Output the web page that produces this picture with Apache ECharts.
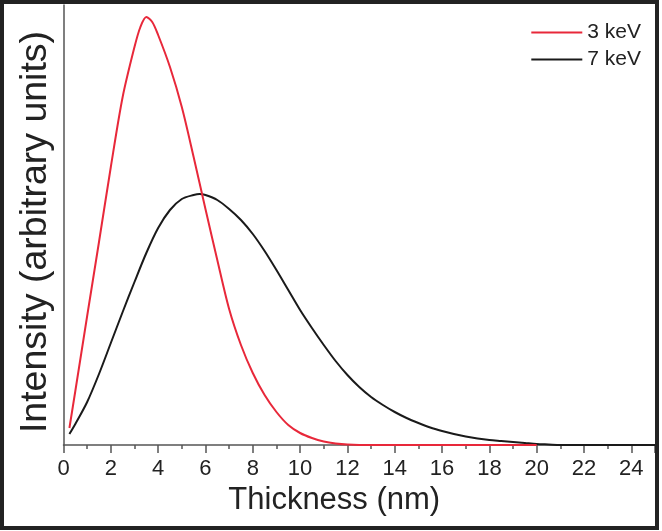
<!DOCTYPE html>
<html>
<head>
<meta charset="utf-8">
<script src="https://cdn.jsdelivr.net/npm/echarts@6/dist/echarts.min.js"></script>
<style>
html,body{margin:0;padding:0;background:#fff;}
#chart{width:662px;height:531px;}
</style>
</head>
<body>
<div id="chart"></div>
<script>
// Thickness (nm) and intensity (arbitrary units)
const thickness3keV = [0.25,0.5,1.0,1.5,2.0,2.5,3.0,3.25,3.5,3.75,4.0,4.5,5.0,5.5,6.0,6.5,7.0,7.5,8.0,8.5,9.0,9.5,10.0,10.5,11.0,11.5,12.0,13.0,16.0,20.0];
const intensity3keV = [17,54,129,203,278,348,398,418,428,423,410,378,338,288,236,185,136,100,72,50,33,20,12,7,3.5,1.5,0.5,0,0,0];

const thickness7keV = [0.25,0.5,1.0,1.5,2.0,2.5,3.0,3.5,4.0,4.5,5.0,5.5,5.75,6.0,6.5,7.0,7.5,8.0,8.5,9.0,9.5,10.0,10.5,11.0,11.5,12.0,12.5,13.0,13.5,14.0,14.5,15.0,15.5,16.0,16.5,17.0,17.5,18.0,18.5,19.0,19.5,20.0,20.5,21.0,25.0];
const intensity7keV = [11,21,43,71,102,133,163,192,217,235,246,250,251,250,245,236,225,211,194,175,155,135,117,100,84,70,58,48,40,33,27,22,17.5,14,11,8.5,6.5,5,4,3,2,1,0.5,0,0];

const seriesNames = ['3 keV','7 keV'];
const xAxisName = 'Thickness (nm)';
const yAxisName = 'Intensity (arbitrary units)';

const pair = (xs, ys) => xs.map((x, i) => [x, ys[i]]);
const FONT = '"Liberation Sans", Arial, sans-serif';

const chart = echarts.init(document.getElementById('chart'), null, {renderer: 'canvas'});
chart.setOption({
  animation: false,
  backgroundColor: '#fff',
  grid: {left: 63.5, top: 5, right: 7, bottom: 86, containLabel: false},
  legend: {
    orient: 'vertical',
    right: 16,
    top: 17,
    icon: 'rect',
    itemWidth: 51,
    itemHeight: 2,
    itemGap: 6,
    textStyle: {fontFamily: FONT, fontSize: 21, color: '#222', lineHeight: 21},
    data: seriesNames
  },
  xAxis: {
    type: 'value',
    min: 0, max: 25, interval: 2,
    name: xAxisName,
    nameLocation: 'middle',
    nameGap: 40,
    nameTextStyle: {fontFamily: FONT, fontSize: 31, color: '#222', padding: [0, 50, 0, 0]},
    axisLine: {show: true, lineStyle: {color: '#555', width: 1.5}},
    axisTick: {show: true, inside: false, length: 8, lineStyle: {color: '#555', width: 1.5}},
    minorTick: {show: true, splitNumber: 2, length: 4, lineStyle: {color: '#555', width: 1.5}},
    axisLabel: {fontFamily: FONT, fontSize: 22, color: '#222', margin: 13, showMaxLabel: false,
      formatter: v => (v > 24 ? '' : String(v))},
    splitLine: {show: false}
  },
  yAxis: {
    type: 'value',
    min: 0, max: 440,
    name: yAxisName,
    nameLocation: 'middle',
    nameRotate: 90,
    nameGap: 9,
    nameTextStyle: {fontFamily: FONT, fontSize: 37.5, color: '#222', padding: [0, 14, 0, 0]},
    axisLine: {show: true, lineStyle: {color: '#555', width: 1.5}},
    axisTick: {show: false},
    axisLabel: {show: false},
    splitLine: {show: false}
  },
  graphic: [{
    type: 'rect',
    silent: true,
    z: 100,
    shape: {x: 2, y: 2, width: 655, height: 526},
    style: {fill: 'none', stroke: '#222', lineWidth: 4}
  }],
  series: [
    {
      name: seriesNames[0], type: 'line', symbol: 'none', smooth: 0.3,
      data: pair(thickness3keV, intensity3keV),
      lineStyle: {color: '#e8283a', width: 2}, itemStyle: {color: '#e8283a'}, z: 3
    },
    {
      name: seriesNames[1], type: 'line', symbol: 'none', smooth: 0.3,
      data: pair(thickness7keV, intensity7keV),
      lineStyle: {color: '#1a1a1a', width: 2}, itemStyle: {color: '#1a1a1a'}, z: 2
    }
  ]
});
</script>
</body>
</html>
